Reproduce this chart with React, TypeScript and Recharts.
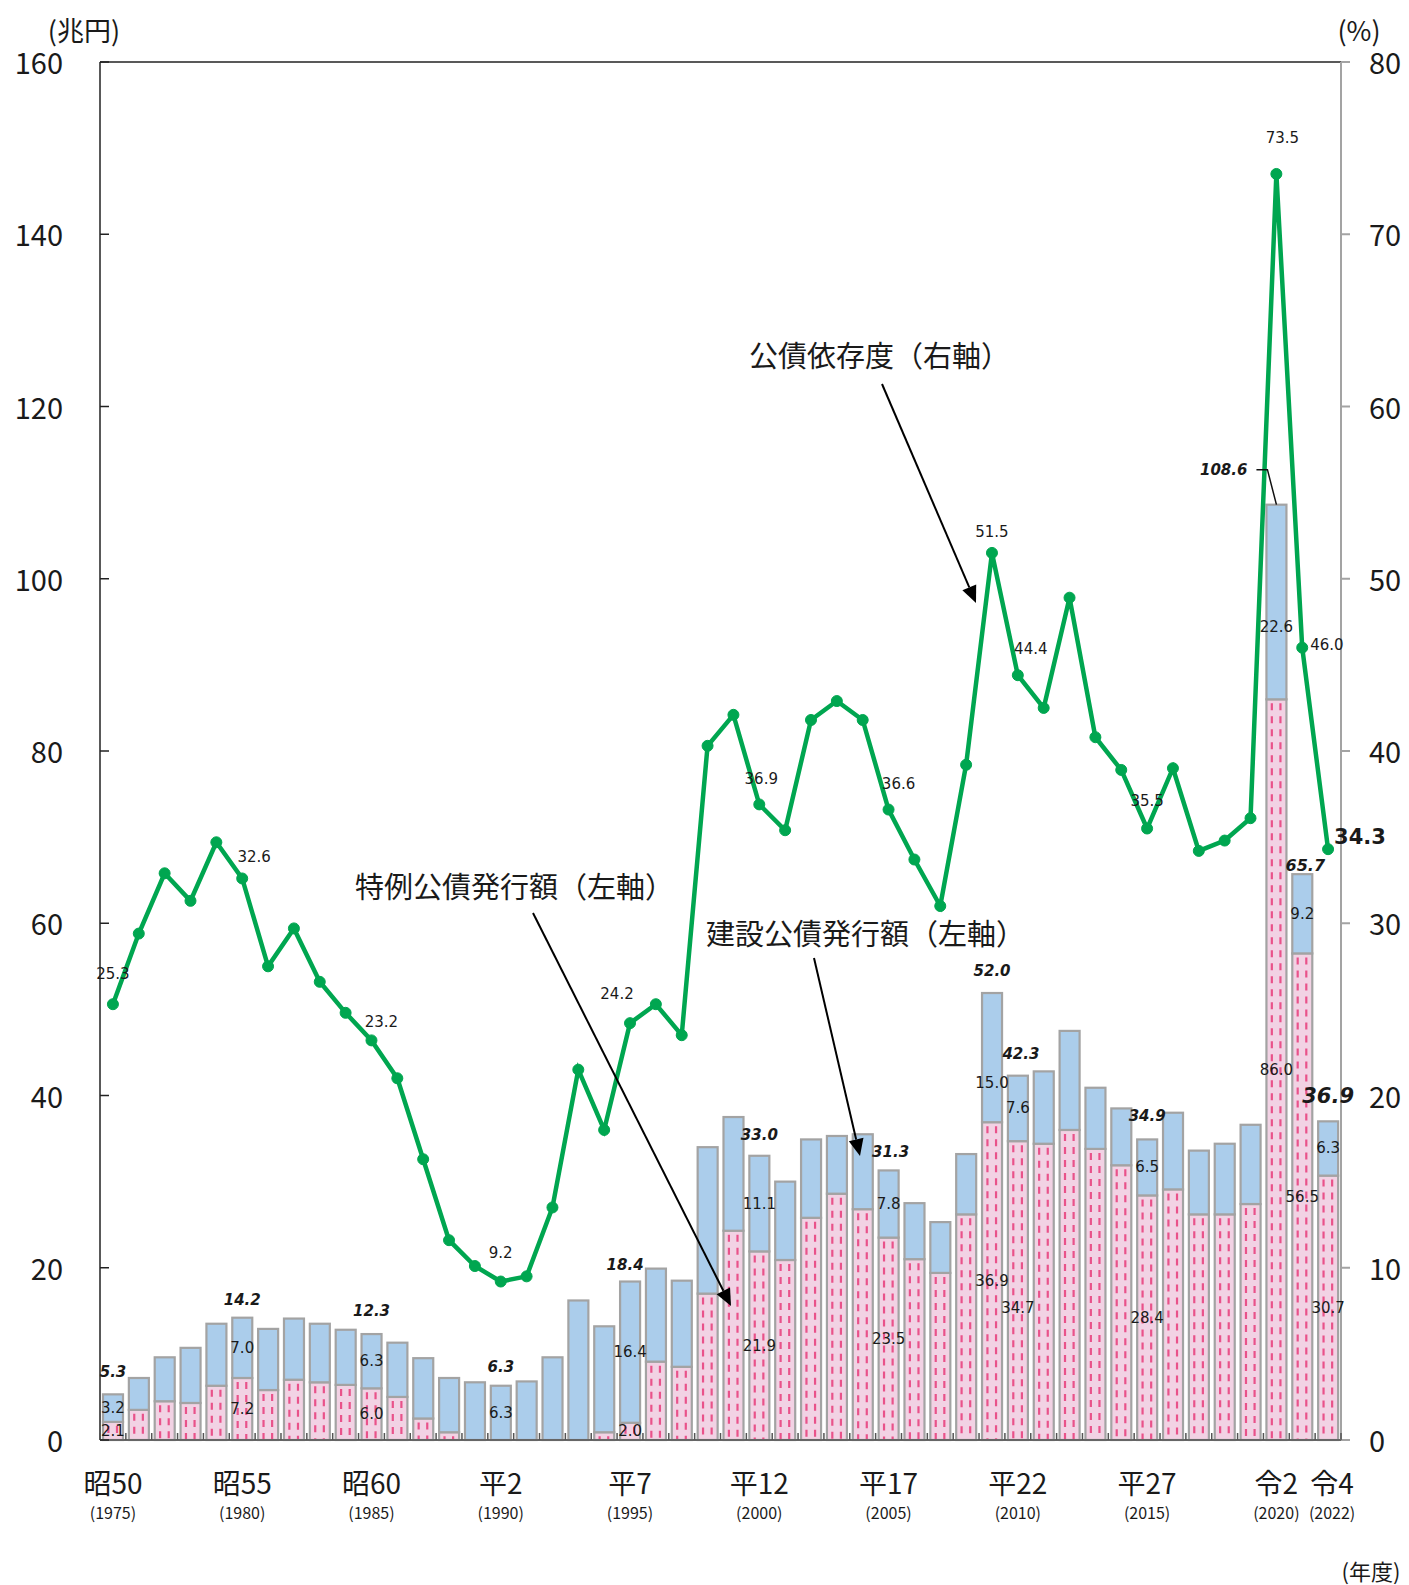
import React from 'react';
import { ComposedChart, Bar, Line, XAxis, YAxis, LabelList, ReferenceLine } from 'recharts';

// ---------- data (兆円 / %) ----------
const years = [
  1975, 1976, 1977, 1978, 1979, 1980, 1981, 1982, 1983, 1984, 1985, 1986,
  1987, 1988, 1989, 1990, 1991, 1992, 1993, 1994, 1995, 1996, 1997, 1998,
  1999, 2000, 2001, 2002, 2003, 2004, 2005, 2006, 2007, 2008, 2009, 2010,
  2011, 2012, 2013, 2014, 2015, 2016, 2017, 2018, 2019, 2020, 2021, 2022,
];
// 特例公債発行額
const specialBonds = [
  2.1, 3.5, 4.5, 4.3, 6.3, 7.2, 5.8, 7.0, 6.7, 6.4, 6.0, 5.0,
  2.5, 0.9, 0.0, 0.0, 0.0, 0.0, 0.0, 0.9, 2.0, 9.1, 8.5, 17.0,
  24.3, 21.9, 20.9, 25.8, 28.6, 26.8, 23.5, 21.0, 19.4, 26.2, 36.9, 34.7,
  34.4, 36.0, 33.8, 31.9, 28.4, 29.1, 26.2, 26.2, 27.4, 86.0, 56.5, 30.7,
];
// 建設公債発行額
const constructionBonds = [
  3.2, 3.7, 5.1, 6.4, 7.2, 7.0, 7.1, 7.1, 6.8, 6.4, 6.3, 6.3,
  7.0, 6.3, 6.7, 6.3, 6.8, 9.6, 16.2, 12.3, 16.4, 10.8, 10.0, 17.0,
  13.2, 11.1, 9.1, 9.1, 6.7, 8.7, 7.8, 6.5, 5.9, 7.0, 15.0, 7.6,
  8.4, 11.5, 7.1, 6.6, 6.5, 8.9, 7.4, 8.2, 9.2, 22.6, 9.2, 6.3,
];
// 公債依存度 (%)
const dependencyRatio = [
  25.3, 29.4, 32.9, 31.3, 34.7, 32.6, 27.5, 29.7, 26.6, 24.8, 23.2, 21.0,
  16.3, 11.6, 10.1, 9.2, 9.5, 13.5, 21.5, 18.0, 24.2, 25.3, 23.5, 40.3,
  42.1, 36.9, 35.4, 41.8, 42.9, 41.8, 36.6, 33.7, 31.0, 39.2, 51.5, 44.4,
  42.5, 48.9, 40.8, 38.9, 35.5, 39.0, 34.2, 34.8, 36.1, 73.5, 46.0, 34.3,
];

// axis ticks / labels
const leftTicks = [0, 20, 40, 60, 80, 100, 120, 140, 160];
const rightTicks = [0, 10, 20, 30, 40, 50, 60, 70, 80];
const eraTickYears = [1975, 1980, 1985, 1990, 1995, 2000, 2005, 2010, 2015, 2020, 2022];
const eraTickLabels = ['昭50', '昭55', '昭60', '平2', '平7', '平12', '平17', '平22', '平27', '令2', '令4'];

// labelled years
const totalLabelYears = [1975, 1980, 1985, 1990, 1995, 2000, 2005, 2009, 2010, 2015, 2020, 2021, 2022];
const totalLabelValues = [5.3, 14.2, 12.3, 6.3, 18.4, 33.0, 31.3, 52.0, 42.3, 34.9, 108.6, 65.7, 36.9];
const segmentLabelYears = [1975, 1980, 1985, 1990, 1995, 2000, 2005, 2009, 2010, 2015, 2020, 2021, 2022];
const ratioLabelYears = [1975, 1980, 1985, 1990, 1995, 2000, 2005, 2009, 2010, 2015, 2020, 2021, 2022];

const rows = years.map((year, i) => ({
  year,
  special: specialBonds[i],
  construction: constructionBonds[i],
  ratio: dependencyRatio[i],
}));
const rowByYear = new Map(rows.map((r) => [r.year, r]));

// ---------- styles ----------
const JP = "'Noto Sans CJK JP', 'Noto Sans', sans-serif";
const NUM = "'DejaVu Sans', Verdana, sans-serif";
const TXT = '#1a1a1a';
const BLUE = '#abcdeb';
const PINK = '#f2d2e4';
const PINK_DASH = '#e9528a';
const BAR_STROKE = '#a3a3a3';
const GREEN = '#00a650';

const totalOffset: Record<number, [number, number]> = {
  1975: [0, -22], 1980: [0, -18], 1985: [0, -23], 1990: [0, -19], 1995: [-5, -17],
  2000: [0, -21], 2005: [2, -18], 2009: [0, -22], 2010: [3, -22], 2015: [0, -23],
  2021: [3, -9], 2022: [0, -25],
};
const constructionShift: Record<number, number> = { 2009: 25, 2020: 25 };
const specialShift: Record<number, number> = { 2010: 17 };
const ratioOffset: Record<number, [number, number, string]> = {
  1975: [0, -30, 'middle'], 1980: [12, -21, 'middle'], 1985: [10, -18, 'middle'],
  1990: [0, -29, 'middle'], 1995: [-13, -29, 'middle'], 2000: [2, -25, 'middle'],
  2005: [10, -26, 'middle'], 2009: [0, -21, 'middle'], 2010: [13, -26, 'middle'],
  2015: [0, -28, 'middle'], 2020: [6, -36, 'middle'], 2021: [8, -3, 'start'],
  2022: [6, -12, 'start'],
};
const eraLabelShift: Record<number, number> = { 2022: 4 };

function vbOf(p: any) {
  const vb = p.viewBox || {};
  return {
    x: vb.x ?? p.x,
    y: vb.y ?? p.y,
    width: vb.width ?? p.width ?? 0,
    height: vb.height ?? p.height ?? 0,
  };
}

const PinkShape = (props: any) => {
  const { x, y, width, height } = props;
  if (!height || height <= 0) return null;
  const xs = [x + width * 0.27, x + width * 0.7];
  return (
    <g>
      <rect x={x} y={y} width={width} height={height} fill={PINK} stroke={BAR_STROKE} strokeWidth={2.2} />
      {xs.map((lx, k) => (
        <line key={k} x1={lx} x2={lx} y1={y + 4} y2={y + height - 1} stroke={PINK_DASH}
          strokeWidth={2.2} strokeDasharray="7 6" />
      ))}
    </g>
  );
};

const BlueShape = (props: any) => {
  const { x, y, width, height } = props;
  if (!height || height <= 0) return null;
  return <rect x={x} y={y} width={width} height={height} fill={BLUE} stroke={BAR_STROKE} strokeWidth={2.2} />;
};

const renderTotalLabel = (p: any) => {
  const year = Number(p.value);
  const k = totalLabelYears.indexOf(year);
  if (k < 0) return null;
  const { x, y, width } = vbOf(p);
  const cx = x + width / 2;
  const text = totalLabelValues[k].toFixed(1);
  if (year === 2020) {
    return (
      <g>
        <polyline points={`${cx - 20},${y - 35} ${cx - 9},${y - 35} ${cx},${y}`} fill="none" stroke="#111" strokeWidth={1.5} />
        <text x={cx - 29} y={y - 35} textAnchor="end" dominantBaseline="central" fontFamily={NUM}
          fontWeight="bold" fontStyle="italic" fontSize={15} fill={TXT}>{text}</text>
      </g>
    );
  }
  const [dx, dy] = totalOffset[year] || [0, -21];
  const big = year === 2022;
  return (
    <text x={cx + dx} y={y + dy} textAnchor="middle" dominantBaseline="central" fontFamily={NUM}
      fontWeight="bold" fontStyle="italic" fontSize={big ? 21 : year === 2021 ? 16 : 15} fill={TXT}>{text}</text>
  );
};

const makeSegmentLabel = (key: 'special' | 'construction') => (p: any) => {
  const year = Number(p.value);
  if (segmentLabelYears.indexOf(year) < 0) return null;
  const row = rowByYear.get(year);
  if (!row || row[key] <= 0) return null;
  const { x, y, width, height } = vbOf(p);
  const shift = key === 'construction' ? constructionShift[year] || 0 : specialShift[year] || 0;
  return (
    <text x={x + width / 2} y={y + height / 2 + shift} textAnchor="middle" dominantBaseline="central"
      fontFamily={NUM} fontSize={15} fill={TXT}>{row[key].toFixed(1)}</text>
  );
};

const renderRatioLabel = (p: any) => {
  const year = Number(p.value);
  if (ratioLabelYears.indexOf(year) < 0) return null;
  const row = rowByYear.get(year);
  if (!row) return null;
  const { x, y } = vbOf(p);
  const [dx, dy, anchor] = ratioOffset[year] || [0, -25, 'middle'];
  const big = year === 2022;
  return (
    <text x={x + dx} y={y + dy} textAnchor={anchor as any} dominantBaseline="central" fontFamily={NUM}
      fontSize={big ? 21 : 15} fontWeight={big ? 'bold' : 'normal'} fill={TXT}>{row.ratio.toFixed(1)}</text>
  );
};

const XTick = (props: any) => {
  const { x, y, payload, index, width } = props;
  const n = years.length;
  const band = (width || 1241) / n;
  const year = Number(payload.value);
  const k = eraTickYears.indexOf(year);
  const left = x - band / 2;
  const sx = eraLabelShift[year] || 0;
  return (
    <g>
      <line x1={left} x2={left} y1={y} y2={y - 7} stroke="#555" strokeWidth={1.5} />
      {index === n - 1 && <line x1={x + band / 2} x2={x + band / 2} y1={y} y2={y - 7} stroke="#555" strokeWidth={1.5} />}
      {k >= 0 && (
        <g>
          <text x={x + sx} y={y + 42} textAnchor="middle" dominantBaseline="central" fontFamily={JP}
            fontSize={28} fill={TXT}>{eraTickLabels[k]}</text>
          <text x={x + sx} y={y + 72} textAnchor="middle" dominantBaseline="central" fontFamily={JP}
            fontSize={16} fill={TXT}>({year})</text>
        </g>
      )}
    </g>
  );
};

const LeftTick = (props: any) => {
  const { x, y, payload } = props;
  return (
    <g>
      <line x1={x} x2={x + 9} y1={y} y2={y} stroke="#222" strokeWidth={1.5} />
      <text x={x - 37} y={y - 1} textAnchor="end" dominantBaseline="central" fontFamily={JP} fontSize={29} fill={TXT}>
        {payload.value}
      </text>
    </g>
  );
};

const RightTick = (props: any) => {
  const { x, y, payload } = props;
  return (
    <text x={x} y={y - 1} textAnchor="start" dominantBaseline="central" fontFamily={JP} fontSize={29} fill={TXT}>
      {payload.value}
    </text>
  );
};

function Arrow({ x1, y1, x2, y2 }: { x1: number; y1: number; x2: number; y2: number }) {
  const a = Math.atan2(y2 - y1, x2 - x1);
  const L = 17;
  const W = 7.5;
  const bx = x2 - L * Math.cos(a);
  const by = y2 - L * Math.sin(a);
  const px = -Math.sin(a) * W;
  const py = Math.cos(a) * W;
  return (
    <g>
      <line x1={x1} y1={y1} x2={bx} y2={by} stroke="#000" strokeWidth={2} />
      <polygon points={`${x2},${y2} ${bx + px},${by + py} ${bx - px},${by - py}`} fill="#000" />
    </g>
  );
}

export default function App() {
  return (
    <div style={{ position: 'absolute', left: 0, top: 0, width: 1409, height: 1585, background: '#fff' }}>
      <ComposedChart width={1409} height={1585} data={rows}
        margin={{ top: 62, right: 8, bottom: 5, left: 10 }} barGap={0}>
        <XAxis dataKey="year" interval={0} height={140} tickLine={false} tickSize={0} tickMargin={0}
          axisLine={{ stroke: '#666', strokeWidth: 2 }} tick={(p: any) => <XTick {...p} />} />
        <YAxis yAxisId="left" domain={[0, 160]} ticks={leftTicks} interval={0} width={90}
          axisLine={{ stroke: '#222', strokeWidth: 1.5 }} tickLine={false} tickSize={0} tickMargin={0}
          tick={(p: any) => <LeftTick {...p} />} />
        <YAxis yAxisId="right" orientation="right" domain={[0, 80]} ticks={rightTicks} interval={0} width={60}
          axisLine={{ stroke: BAR_STROKE, strokeWidth: 2 }} tickLine={{ stroke: BAR_STROKE, strokeWidth: 2 }}
          tickSize={9} tickMargin={19} tick={(p: any) => <RightTick {...p} />} />
        <ReferenceLine yAxisId="left" y={160} stroke="#595959" strokeWidth={2} />
        <Bar dataKey="special" stackId="a" yAxisId="left" barSize={20} fill={PINK} stroke={BAR_STROKE}
          isAnimationActive={false} shape={(p: any) => <PinkShape {...p} />}>
          <LabelList dataKey="year" content={makeSegmentLabel('special')} />
        </Bar>
        <Bar dataKey="construction" stackId="a" yAxisId="left" barSize={20} fill={BLUE} stroke={BAR_STROKE}
          isAnimationActive={false} shape={(p: any) => <BlueShape {...p} />}>
          <LabelList dataKey="year" content={makeSegmentLabel('construction')} />
          <LabelList dataKey="year" content={renderTotalLabel} />
        </Bar>
        <Line yAxisId="right" dataKey="ratio" type="linear" stroke={GREEN} strokeWidth={4.5}
          dot={{ r: 5.5, fill: GREEN, stroke: GREEN, strokeWidth: 1 }} activeDot={false}
          isAnimationActive={false}>
          <LabelList dataKey="year" content={renderRatioLabel} />
        </Line>
      </ComposedChart>
      <svg width={1409} height={1585} style={{ position: 'absolute', left: 0, top: 0, pointerEvents: 'none' }}>
        <text x={84} y={29} textAnchor="middle" dominantBaseline="central" fontFamily={JP} fontSize={27} fill={TXT}>(兆円)</text>
        <text x={1359} y={29} textAnchor="middle" dominantBaseline="central" fontFamily={JP} fontSize={27} fill={TXT}>(%)</text>
        <text x={1371} y={1570} textAnchor="middle" dominantBaseline="central" fontFamily={JP} fontSize={22} fill={TXT}>(年度)</text>
        <text x={749} y={354} textAnchor="start" dominantBaseline="central" fontFamily={JP} fontSize={29} fill={TXT}>公債依存度（右軸）</text>
        <text x={355} y={885} textAnchor="start" dominantBaseline="central" fontFamily={JP} fontSize={29} fill={TXT}>特例公債発行額（左軸）</text>
        <text x={706} y={932} textAnchor="start" dominantBaseline="central" fontFamily={JP} fontSize={29} fill={TXT}>建設公債発行額（左軸）</text>
        <Arrow x1={882} y1={384} x2={976} y2={603} />
        <Arrow x1={533} y1={913} x2={731} y2={1306} />
        <Arrow x1={814} y1={958} x2={860} y2={1156} />
      </svg>
    </div>
  );
}
